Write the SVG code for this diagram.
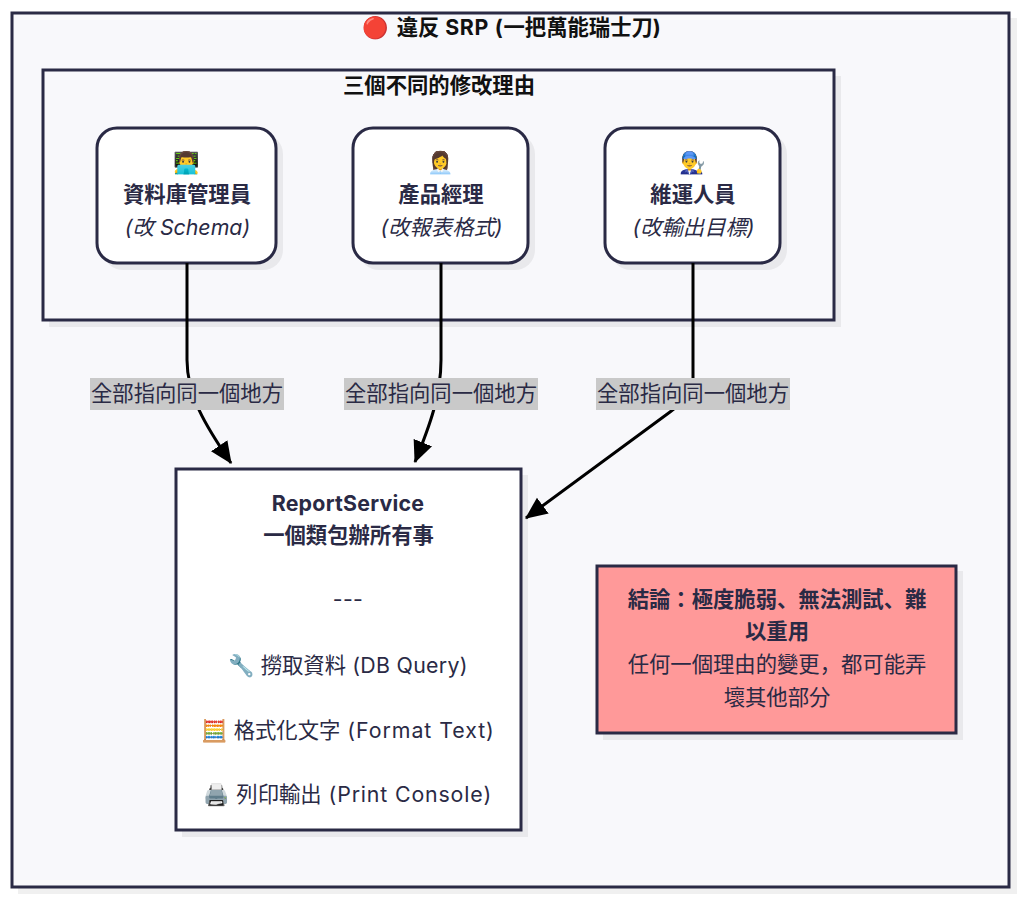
<svg xmlns="http://www.w3.org/2000/svg" width="1024" height="902" viewBox="0 0 1024 902">
<style>
text{font-family:"Inter","Noto Sans CJK JP","Noto Color Emoji",sans-serif;fill:#2a2a45;font-size:21.33px;text-anchor:middle}
.b{font-weight:700}
.i{font-style:italic}
.t{fill:#111;font-weight:700}
.box{stroke:#2a2a45;stroke-width:3}
.sh{fill:#000;fill-opacity:.06}
.lb{fill:#c9c9c9}
.edge{fill:none;stroke:#000;stroke-width:3;marker-end:url(#ah)}
</style>
<defs>
<marker id="ah" markerUnits="userSpaceOnUse" markerWidth="22" markerHeight="22" refX="19" refY="9" viewBox="0 0 20 18" orient="auto"><path d="M0 0L20 9L0 18Z" fill="#000"/></marker>
</defs>
<rect width="1024" height="902" fill="#fff"/>
<g id="outer">
<rect class="sh" x="18" y="18" width="999" height="876"/>
<rect class="box" x="12" y="13" width="997" height="874" fill="#f8f8fb"/>
<text class="t" x="511.5" y="35">🔴 <tspan dx="3">違反</tspan><tspan letter-spacing=".7"> SRP (</tspan>一把萬能瑞士刀)</text>
</g>
<g id="reasons">
<rect class="sh" x="49" y="76" width="792" height="251"/>
<rect class="box" x="43" y="70" width="791" height="250" fill="#f8f8fb"/>
<text class="t" x="439" y="92.5">三個不同的修改理由</text>
</g>
<g id="dba">
<rect class="sh" x="103" y="134" width="180" height="136" rx="20"/>
<rect class="box" x="97" y="128" width="179" height="135" rx="20" fill="#fff"/>
<text x="187" y="170">👨‍💻</text>
<text class="b" x="187" y="202">資料庫管理員</text>
<text class="i" x="187.5" y="235">(改 Schema)</text>
</g>
<g id="pm">
<rect class="sh" x="359" y="134" width="176" height="136" rx="20"/>
<rect class="box" x="353" y="128" width="175" height="135" rx="20" fill="#fff"/>
<text x="441" y="170">👩‍💼</text>
<text class="b" x="441" y="202">產品經理</text>
<text class="i" x="441.5" y="235">(改報表格式)</text>
</g>
<g id="ops">
<rect class="sh" x="611" y="134" width="176" height="136" rx="20"/>
<rect class="box" x="605" y="128" width="175" height="135" rx="20" fill="#fff"/>
<text x="693" y="170">👨‍🔧</text>
<text class="b" x="693" y="202">維運人員</text>
<text class="i" x="693.5" y="235">(改輸出目標)</text>
</g>
<g id="service">
<rect class="sh" x="182" y="475" width="346" height="362"/>
<rect class="box" x="176" y="469" width="345" height="361" fill="#fff"/>
<text class="b" x="348" y="511" letter-spacing=".25">ReportService</text>
<text class="b" x="348.5" y="542.5">一個類包辦所有事</text>
<text x="348" y="607" letter-spacing=".3">---</text>
<text x="348" y="672.5">🔧 撈取資料<tspan letter-spacing=".3"> (DB Query)</tspan></text>
<text x="348" y="737.5">🧮 格式化文字<tspan letter-spacing=".95"> (Format Text)</tspan></text>
<text x="348" y="802">🖨️ 列印輸出<tspan letter-spacing=".85"> (Print Console)</tspan></text>
</g>
<g id="conclusion">
<rect class="sh" x="603" y="571" width="360" height="169"/>
<rect class="box" x="597" y="566" width="359" height="167" fill="#ff9999"/>
<text class="b" x="777" y="606.5">結論：極度脆弱、無法測試、難</text>
<text class="b" x="777" y="639">以重用</text>
<text x="777" y="672">任何一個理由的變更，都可能弄</text>
<text x="777" y="704.5">壞其他部分</text>
</g>
<g id="connectors">
<path class="edge" d="M187 263V360C187 395 205 425 231 463"/>
<path class="edge" d="M441 263V360C441 395 430 425 415 462"/>
<path class="edge" d="M693 263V378Q693 395 670 412L526 518"/>
</g>
<g id="labels">
<rect class="lb" x="90" y="378" width="194" height="32"/>
<text x="187" y="401">全部指向同一個地方</text>
<rect class="lb" x="344" y="378" width="194" height="32"/>
<text x="441" y="401">全部指向同一個地方</text>
<rect class="lb" x="596" y="378" width="194" height="32"/>
<text x="693" y="401">全部指向同一個地方</text>
</g>
</svg>
